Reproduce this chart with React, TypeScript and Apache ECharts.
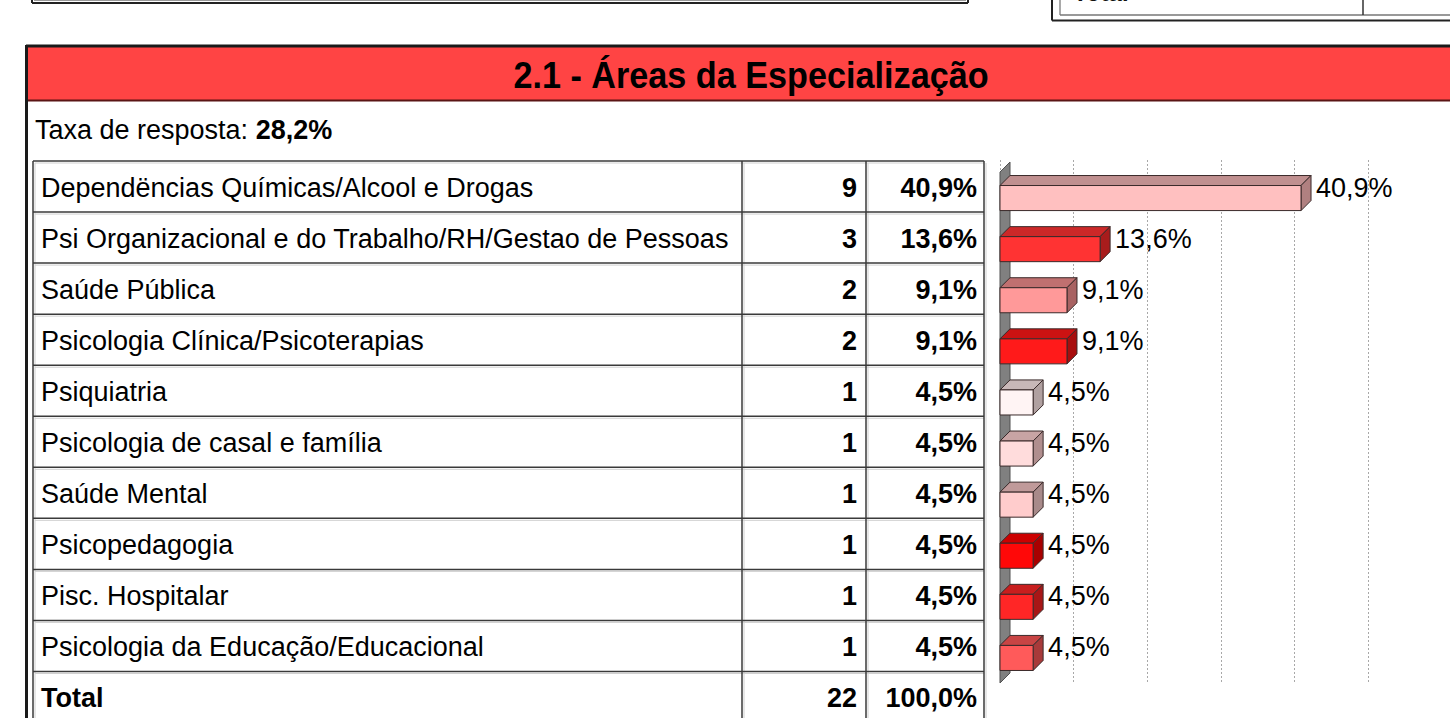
import React, { useEffect, useRef } from "react";
import * as echarts from "echarts";

// ---------- data ----------
const categories = [
  "Dependëncias Químicas/Alcool e Drogas",
  "Psi Organizacional e do Trabalho/RH/Gestao de Pessoas",
  "Saúde Pública",
  "Psicologia Clínica/Psicoterapias",
  "Psiquiatria",
  "Psicologia de casal e família",
  "Saúde Mental",
  "Psicopedagogia",
  "Pisc. Hospitalar",
  "Psicologia da Educação/Educacional",
];
const counts = [9, 3, 2, 2, 1, 1, 1, 1, 1, 1];
const percents = [40.9, 13.6, 9.1, 9.1, 4.5, 4.5, 4.5, 4.5, 4.5, 4.5];
const totalLabel = "Total";
const totalCount = 22;
const totalPercent = 100.0;
const responseRate = 28.2;
const titleText = "2.1 - Áreas da Especialização";
const xMin = 0;
const xMax = 50;
const xInterval = 10;

// ---------- palette (styles) ----------
const frontColors = ["#FFC0C0", "#FF3333", "#FF9999", "#FF1A1A", "#FFF4F4", "#FFDCDC", "#FFCCCC", "#FF0808", "#FF2626", "#FF5A5A"];
const topColors = ["#C09090", "#CC2828", "#C07070", "#CC1212", "#C8B8B8", "#C8A4A4", "#C09A9A", "#CC0000", "#C81E1E", "#C84444"];
const sideColors = ["#B08080", "#A81C1C", "#A86262", "#A80E0E", "#B0A0A0", "#B08E8E", "#A88A8A", "#A80000", "#A81616", "#A83A3A"];

const FONT = '"Liberation Sans", Arial, sans-serif';
const TXT = 27;
const fmtPct = (v: number) => v.toFixed(1).replace(".", ",") + "%";

export default function App() {
  const ref = useRef<HTMLDivElement>(null);

  useEffect(() => {
    if (!ref.current) return;
    const chart = echarts.init(ref.current, undefined, { renderer: "svg" });

    // table layout
    const tLeft = 33;
    const colA = 742;
    const colB = 866;
    const tRight = 984;
    const rowTop = 161;
    const rowH = 51.05;
    const lineColor = "#3a3a3a";

    const graphics: any[] = [];

    // top partial boxes
    graphics.push(
      { type: "line", z: 1, shape: { x1: 32, y1: -2, x2: 32, y2: 3 }, style: { stroke: "#222", lineWidth: 2 } },
      { type: "line", z: 1, shape: { x1: 32, y1: 3, x2: 968, y2: 3 }, style: { stroke: "#222", lineWidth: 2 } },
      { type: "line", z: 1, shape: { x1: 968, y1: -2, x2: 968, y2: 3 }, style: { stroke: "#222", lineWidth: 2 } },
      { type: "line", z: 1, shape: { x1: 34, y1: 0.5, x2: 966, y2: 0.5 }, style: { stroke: "#999", lineWidth: 1 } },
      { type: "line", z: 1, shape: { x1: 1052, y1: -2, x2: 1052, y2: 20.5 }, style: { stroke: "#222", lineWidth: 2 } },
      { type: "line", z: 1, shape: { x1: 1052, y1: 20.5, x2: 1460, y2: 20.5 }, style: { stroke: "#222", lineWidth: 2 } },
      { type: "line", z: 1, shape: { x1: 1060, y1: -2, x2: 1060, y2: 15 }, style: { stroke: "#555", lineWidth: 1 } },
      { type: "line", z: 1, shape: { x1: 1060, y1: 15, x2: 1460, y2: 15 }, style: { stroke: "#777", lineWidth: 1.5 } },
      { type: "line", z: 1, shape: { x1: 1363, y1: -2, x2: 1363, y2: 15 }, style: { stroke: "#333", lineWidth: 1.5 } },
      {
        type: "text", z: 2,
        style: { text: totalLabel, x: 1073, y: -8, fill: "#111", fontSize: 24, fontWeight: "bold", fontFamily: FONT, textVerticalAlign: "middle" },
      }
    );

    // main panel
    graphics.push(
      { type: "rect", z: 1, shape: { x: 27, y: 46, width: 1440, height: 55 }, style: { fill: "#FF4444" } },
      { type: "line", z: 2, shape: { x1: 26, y1: 46, x2: 1460, y2: 46 }, style: { stroke: "#1a1a1a", lineWidth: 3 } },
      { type: "line", z: 2, shape: { x1: 26.5, y1: 45, x2: 26.5, y2: 720 }, style: { stroke: "#1a1a1a", lineWidth: 3 } },
      { type: "line", z: 2, shape: { x1: 28, y1: 100.5, x2: 1460, y2: 100.5 }, style: { stroke: "#5a1515", lineWidth: 2 } },
      {
        type: "text", z: 3, x: 751, y: 75, scaleX: 0.95,
        style: {
          text: titleText, x: 0, y: 0, fill: "#000", fontSize: 36, fontWeight: "bold", fontFamily: FONT,
          textAlign: "center", textVerticalAlign: "middle",
        },
      },
      {
        type: "text", z: 3,
        style: {
          text: "{a|Taxa de resposta: }{b|" + fmtPct(responseRate) + "}",
          x: 35, y: 130, textVerticalAlign: "middle",
          rich: {
            a: { fontSize: TXT, fontFamily: FONT, fill: "#000", color: "#000" },
            b: { fontSize: TXT, fontFamily: FONT, fontWeight: "bold", fill: "#000", color: "#000" },
          },
        },
      }
    );

    // table lines
    const nRows = categories.length + 1;
    for (let i = 0; i <= nRows; i++) {
      const y = rowTop + i * rowH;
      graphics.push({ type: "line", z: 2, shape: { x1: tLeft, y1: y, x2: tRight, y2: y }, style: { stroke: lineColor, lineWidth: 1.5 } });
      graphics.push({ type: "line", z: 1, shape: { x1: tLeft + 2, y1: y + 2, x2: tRight, y2: y + 2 }, style: { stroke: "#d0d0d0", lineWidth: 1 } });
    }
    [tLeft, colA, colB, tRight].forEach((x) => {
      graphics.push({ type: "line", z: 2, shape: { x1: x, y1: rowTop, x2: x, y2: 720 }, style: { stroke: lineColor, lineWidth: 1.5 } });
      graphics.push({ type: "line", z: 1, shape: { x1: x + 2, y1: rowTop + 2, x2: x + 2, y2: 720 }, style: { stroke: "#d0d0d0", lineWidth: 1 } });
    });

    const rowTexts = categories.map((c, i) => [c, String(counts[i]), fmtPct(percents[i]), false] as [string, string, string, boolean]);
    rowTexts.push([totalLabel, String(totalCount), fmtPct(totalPercent), true]);
    rowTexts.forEach(([label, cnt, pct, isTotal], i) => {
      const yc = rowTop + rowH * (i + 0.5) + 1;
      graphics.push({
        type: "text", z: 3,
        style: { text: label, x: 41, y: yc, fill: "#000", fontSize: TXT, fontFamily: FONT, fontWeight: isTotal ? "bold" : "normal", textVerticalAlign: "middle" },
      });
      graphics.push({
        type: "text", z: 3,
        style: { text: cnt, x: 857, y: yc, fill: "#000", fontSize: TXT, fontFamily: FONT, fontWeight: "bold", textAlign: "right", textVerticalAlign: "middle" },
      });
      graphics.push({
        type: "text", z: 3,
        style: { text: pct, x: 977, y: yc, fill: "#000", fontSize: TXT, fontFamily: FONT, fontWeight: "bold", textAlign: "right", textVerticalAlign: "middle" },
      });
    });

    // 3D axis wall
    graphics.push({
      type: "polygon", z: 3,
      shape: { points: [[1000, 172], [1010, 162], [1010, 673], [1000, 683]] },
      style: { fill: "#808080", stroke: "#505050", lineWidth: 1 },
    });

    const depth = 10;

    chart.setOption({
      animation: false,
      backgroundColor: "#fff",
      grid: [
        { left: 1000, top: 160, width: 368, height: 523 },
        { left: 1000, top: 172, width: 368, height: 511 },
      ],
      xAxis: [
        {
          gridIndex: 0, type: "value", min: xMin, max: xMax, interval: xInterval,
          axisLine: { show: false }, axisTick: { show: false }, axisLabel: { show: false },
          splitLine: { show: true, lineStyle: { color: "#a8a8a8", type: [2, 2], width: 1 } },
        },
        {
          gridIndex: 1, type: "value", min: xMin, max: xMax, interval: xInterval, show: false,
          splitLine: { show: false },
        },
      ],
      yAxis: [
        { gridIndex: 0, type: "category", data: categories, show: false },
        { gridIndex: 1, type: "category", data: categories, inverse: true, show: false },
      ],
      graphic: graphics,
      series: [
        {
          type: "custom",
          xAxisIndex: 1,
          yAxisIndex: 1,
          z: 10,
          clip: false,
          encode: { x: 0, y: 1 },
          data: percents.map((p, i) => [p, i]),
          renderItem: (params: any, api: any) => {
            const v = api.value(0);
            const idx = api.value(1);
            const [x1, yc] = api.coord([v, idx]);
            const [x0] = api.coord([0, idx]);
            const band = api.size([0, 1])[1];
            const h = band * 0.49;
            const y0 = yc - h / 2 + 0.5;
            const y1 = yc + h / 2 + 0.5;
            const i = params.dataIndex;
            const stroke = "#3a2a2a";
            return {
              type: "group",
              children: [
                {
                  type: "polygon",
                  shape: { points: [[x0, y0], [x0 + depth, y0 - depth], [x1 + depth, y0 - depth], [x1, y0]] },
                  style: { fill: topColors[i], stroke, lineWidth: 1 },
                },
                {
                  type: "polygon",
                  shape: { points: [[x1, y0], [x1 + depth, y0 - depth], [x1 + depth, y1 - depth], [x1, y1]] },
                  style: { fill: sideColors[i], stroke, lineWidth: 1 },
                },
                {
                  type: "rect",
                  shape: { x: x0, y: y0, width: x1 - x0, height: y1 - y0 },
                  style: { fill: frontColors[i], stroke, lineWidth: 1 },
                },
                {
                  type: "text",
                  style: {
                    text: fmtPct(v), x: x1 + depth + 5, y: yc - 10,
                    fill: "#000", fontSize: TXT, fontFamily: FONT,
                    textAlign: "left", textVerticalAlign: "middle",
                  },
                },
              ],
            };
          },
        },
      ],
    });

    return () => chart.dispose();
  }, []);

  return (
    <div
      ref={ref}
      style={{ position: "fixed", left: 0, top: 0, width: 1450, height: 718, background: "#fff" }}
    />
  );
}
